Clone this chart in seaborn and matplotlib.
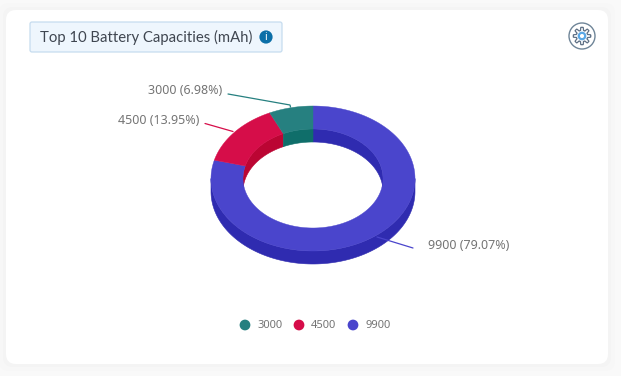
import numpy as np
import pandas as pd
import seaborn as sns
import matplotlib
matplotlib.use("Agg")
import matplotlib.pyplot as plt
from matplotlib.patches import FancyBboxPatch, Circle

# ---- data ----
categories = ["3000", "4500", "9900"]
counts = [3, 6, 34]
colors_top = ["#268080", "#d60d49", "#4a45cc"]
colors_side = ["#0f6e6a", "#bb0533", "#2f2bb0"]
title = "Top 10 Battery Capacities (mAh)"
draw_order = [2, 1, 0]   # clockwise from twelve o'clock

sns.set_theme(style="white")
plt.rcParams["font.family"] = ["Noto Sans", "DejaVu Sans"]

W, H = 621, 376
fig = plt.figure(figsize=(W / 100, H / 100), dpi=100, facecolor="#f9f9f9")
ax = fig.add_axes([0, 0, 1, 1])
ax.set_xlim(0, W)
ax.set_ylim(H, 0)
ax.axis("off")

# card and soft shadow
for grow, col in [(7, "#f7f7f7"), (3, "#f4f4f4")]:
    ax.add_patch(FancyBboxPatch((14 - grow, 18 - grow), 586 + 2 * grow, 338 + 2 * grow,
                                boxstyle="round,pad=8,rounding_size=10", fc=col, ec="none", zorder=0))
ax.add_patch(FancyBboxPatch((14, 18), 586, 338, boxstyle="round,pad=8,rounding_size=10",
                            fc="white", ec="none", zorder=1))

# title pill
ax.add_patch(FancyBboxPatch((32, 24), 248, 26, boxstyle="round,pad=2,rounding_size=2",
                            fc="#eef6fd", ec="#c6dcef", lw=0.9, zorder=2))
ax.text(39.5, 37.5, title, fontsize=10.7, family="Lato", color="#3f4650", va="center", ha="left", zorder=3)
ax.add_patch(Circle((266, 37), 6.6, fc="#0b6fa8", ec="none", zorder=3))
ax.text(266, 37, "i", fontsize=7.5, color="white", weight="bold", ha="center", va="center", zorder=4)

# settings icon
ax.add_patch(Circle((582, 36), 13, fc="white", ec="#6f8598", lw=1.0, zorder=3))
t = np.linspace(0, 2 * np.pi, 361)
r = 7.2 + 1.5 * np.clip(2.2 * np.cos(8 * t), -1, 1)
ax.plot(582 + r * np.cos(t), 36 + r * np.sin(t), color="#5f7186", lw=0.9, zorder=4)
ax.add_patch(Circle((582, 36), 3.2, fc="white", ec="#5aa7e6", lw=1.6, zorder=4))

# 3D donut geometry (pixels of the full-figure axes)
cx, cy = 313, 178.5
Rx, Ry, rx, ry = 102, 72.5, 70, 49.5
depth = 13


def pt(th, ax_x, ax_y, dy=0.0):
    th = np.radians(th)
    return cx + ax_x * np.sin(th), cy - ax_y * np.cos(th) + dy


total = sum(counts)
spans = {}
start = 0.0
for i in draw_order:
    spans[i] = (start, start + 360 * counts[i] / total)
    start = spans[i][1]

# outer wall (front half, 90..270 deg)
for i in draw_order:
    a, b = max(spans[i][0], 90), min(spans[i][1], 270)
    if b > a:
        th = np.linspace(a, b, 200)
        x1, y1 = pt(th, Rx, Ry)
        x2, y2 = pt(th[::-1], Rx, Ry, depth)
        ax.fill(np.r_[x1, x2], np.r_[y1, y2], color=colors_side[i], lw=0.4, zorder=5)

# inner wall (back half): each slice's wall runs on to the hole's left end
first_back = draw_order[1]
for i in draw_order:
    a, b = spans[i]
    if i == first_back:
        a = 270
    if i == draw_order[0]:
        a, b = 360, 360 + min(b, 90)   # part of first slice right of twelve o'clock
    th = np.linspace(a, b, 200)
    x1, y1 = pt(th, rx, ry)
    x2, y2 = pt(th[::-1], rx, ry, depth)
    ax.fill(np.r_[x1, x2], np.r_[y1, y2], color=colors_side[i], lw=0.4, zorder=5)

# top faces
for i in draw_order:
    th = np.linspace(spans[i][0], spans[i][1], 300)
    x1, y1 = pt(th, Rx, Ry)
    x2, y2 = pt(th[::-1], rx, ry)
    ax.fill(np.r_[x1, x2], np.r_[y1, y2], color=colors_top[i], lw=0.3, zorder=6)

# leader lines and labels
leaders = {0: [(228, 94), (290, 105), (290.5, 107)],
           1: [(205, 123.5), (233, 131.5)],
           2: [(377, 237), (413, 248)]}
label_pos = {0: (222.5, 91, "right"), 1: (199.5, 120, "right"), 2: (428, 245.5, "left")}
for i in draw_order:
    xs, ys = zip(*leaders[i])
    ax.plot(xs, ys, color=colors_top[i], lw=0.9, zorder=7 if i != 2 else 5.5)
    lx, ly, ha = label_pos[i]
    pct = 100 * counts[i] / total
    ax.text(lx, ly, f"{categories[i]} ({pct:.2f}%)", fontsize=9, color="#757575",
            ha=ha, va="center", zorder=7)

# legend
legend_df = pd.DataFrame({"cat": categories, "x": [245, 299, 353], "y": [325, 325, 325]})
sns.scatterplot(data=legend_df, x="x", y="y", hue="cat", palette=colors_top, s=60,
                edgecolor="none", legend=False, ax=ax, zorder=7)
ax.set_xlim(0, W)
ax.set_ylim(H, 0)
ax.axis("off")
for cat, x in zip(categories, legend_df["x"]):
    ax.text(x + 12, 325.5, cat, fontsize=8, color="#757575", ha="left", va="center", zorder=7)

fig.savefig("out.png", dpi=100, facecolor=fig.get_facecolor())
